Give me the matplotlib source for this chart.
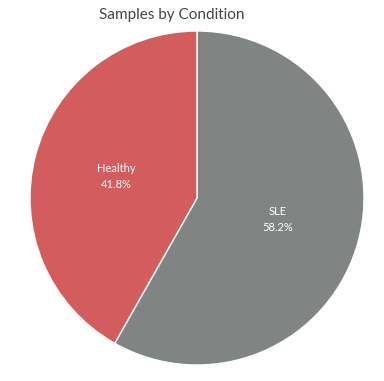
import matplotlib
matplotlib.use("Agg")
import matplotlib.pyplot as plt

plt.rcParams["font.family"] = ["Lato", "DejaVu Sans"]

conditions = ["SLE", "Healthy"]
shares = [58.2, 41.8]
colors = ["#808584", "#d35d5d"]

fig = plt.figure(figsize=(3.84, 3.81), dpi=100)
ax = fig.add_axes([30 / 384, 16 / 381, 334 / 384, 334 / 381])

labels = [f"{c}\n{s:.1f}%" for c, s in zip(conditions, shares)]
wedges, texts = ax.pie(shares, labels=labels, colors=colors, startangle=90,
                       counterclock=False, labeldistance=0.5,
                       wedgeprops=dict(edgecolor="white", linewidth=1),
                       textprops=dict(color="white", fontsize=8, ha="center",
                                      va="center", linespacing=1.5))
ax.set_xlim(-1, 1)
ax.set_ylim(-1, 1)

fig.text(172 / 384, 1 - 15 / 381, "Samples by Condition", ha="center",
         va="center", fontsize=11, color="#444444")

fig.savefig("out.png", dpi=100)
